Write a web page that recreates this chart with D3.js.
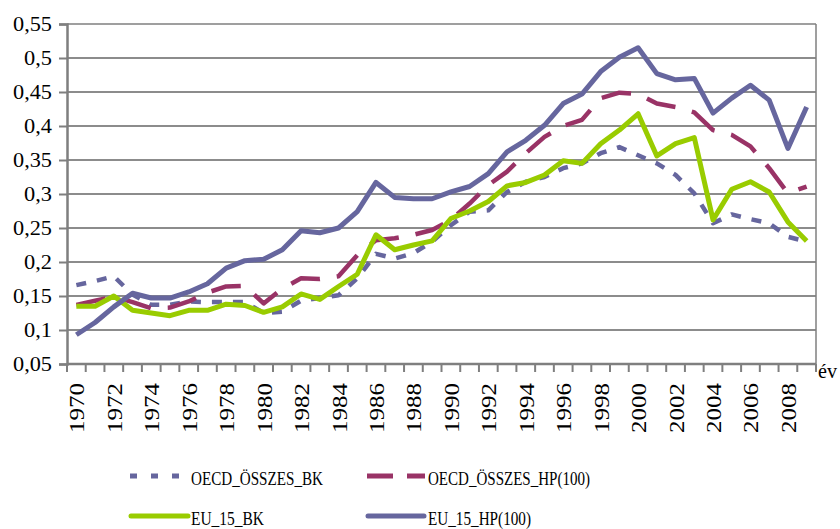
<!DOCTYPE html>
<html><head><meta charset="utf-8">
<script src="https://cdn.jsdelivr.net/npm/d3@7"></script>
<style>body{margin:0;background:#fff;} svg text{font-family:"Liberation Serif","Tinos","DejaVu Serif","Liberation Sans Narrow","Liberation Sans",serif;fill:#000;}</style>
</head><body>
<svg id="c" width="840" height="529"></svg>
<script>
const years = d3.range(1970, 2010);
const yTicks = [0.05,0.1,0.15,0.2,0.25,0.3,0.35,0.4,0.45,0.5,0.55];
const oecdBK = [0.166,0.172,0.179,0.152,0.137,0.137,0.142,0.141,0.141,0.141,0.125,0.127,0.143,0.147,0.151,0.176,0.212,0.205,0.213,0.230,0.254,0.274,0.276,0.303,0.318,0.325,0.338,0.345,0.360,0.369,0.357,0.345,0.328,0.301,0.257,0.270,0.263,0.257,0.237,0.230];
const oecdHP = [0.137,0.143,0.149,0.141,0.132,0.133,0.142,0.155,0.164,0.165,0.139,0.161,0.176,0.175,0.179,0.210,0.232,0.235,0.240,0.247,0.262,0.286,0.313,0.333,0.360,0.384,0.400,0.409,0.441,0.449,0.447,0.433,0.428,0.420,0.394,0.387,0.370,0.338,0.301,0.311];
const euBK = [0.135,0.135,0.150,0.129,0.125,0.121,0.129,0.129,0.138,0.136,0.126,0.134,0.153,0.145,0.164,0.182,0.240,0.218,0.225,0.231,0.264,0.275,0.289,0.312,0.317,0.328,0.349,0.345,0.374,0.394,0.418,0.356,0.374,0.383,0.262,0.307,0.318,0.303,0.259,0.231];
const euHP = [0.093,0.111,0.134,0.154,0.147,0.147,0.156,0.168,0.191,0.202,0.204,0.218,0.246,0.243,0.250,0.274,0.317,0.295,0.293,0.293,0.303,0.311,0.330,0.362,0.379,0.401,0.433,0.447,0.480,0.501,0.515,0.477,0.468,0.470,0.419,0.441,0.460,0.438,0.367,0.428];
const seriesNames = ["OECD_ÖSSZES_BK","OECD_ÖSSZES_HP(100)","EU_15_BK","EU_15_HP(100)"];

const svg = d3.select("#c");
const L = 67, R = 816, T = 24, B = 364;
const x = d3.scaleBand().domain(years).range([L, R]);
const y = d3.scaleLinear().domain([0.05, 0.55]).range([B, T]);

// gridlines
svg.append("g").selectAll("line").data(yTicks.filter(v => v > 0.051 && v < 0.549)).join("line")
  .attr("x1", L).attr("x2", R).attr("y1", d => y(d)).attr("y2", d => y(d))
  .attr("stroke", "#1a1a1a").attr("stroke-width", 1.2);
svg.append("line").attr("x1", L).attr("x2", R).attr("y1", T).attr("y2", T).attr("stroke", "#7f7f7f").attr("stroke-width", 1.5);
svg.append("line").attr("x1", R).attr("x2", R).attr("y1", T).attr("y2", B).attr("stroke", "#7f7f7f").attr("stroke-width", 1.5);

// y axis
const fmt = d => d3.format(".2~f")(d).replace(".", ",");
const yAxis = d3.axisLeft(y).tickValues(yTicks).tickSize(8).tickPadding(7).tickFormat(fmt);
const gy = svg.append("g").attr("transform", `translate(${L},0)`).call(yAxis).attr("font-family", null);
gy.select(".domain").attr("stroke", "#7f7f7f").attr("stroke-width", 2.5);
gy.selectAll(".tick line").attr("stroke", "#7f7f7f").attr("stroke-width", 2);
gy.selectAll(".tick text").attr("font-size", 20).attr("fill", "#000")
  .attr("textLength", d => { const s = fmt(d); return s.length === 4 ? 39 : 28; })
  .attr("lengthAdjust", "spacingAndGlyphs");

// x axis
const gx = svg.append("g").attr("transform", `translate(0,${B})`);
gx.append("line").attr("x1", L).attr("x2", R).attr("stroke", "#7f7f7f").attr("stroke-width", 2.5);
gx.selectAll("line.t").data(d3.range(years.length + 1)).join("line").attr("class", "t")
  .attr("x1", i => L + i * x.step()).attr("x2", i => L + i * x.step())
  .attr("y1", 0).attr("y2", 8).attr("stroke", "#7f7f7f").attr("stroke-width", 2);
gx.selectAll("text").data(years.filter(v => v % 2 === 0)).join("text")
  .attr("transform", d => `translate(${x(d) + x.bandwidth() / 2 + 1},${383 - B}) rotate(-90)`)
  .attr("text-anchor", "end").attr("dominant-baseline", "central")
  .attr("font-size", 21).attr("textLength", 50).attr("lengthAdjust", "spacingAndGlyphs")
  .text(d => d);
svg.append("text").attr("x", 818).attr("y", 378).attr("font-size", 20)
  .attr("textLength", 19).attr("lengthAdjust", "spacingAndGlyphs").text("év");

// lines
const cx = (d, i) => x(years[i]) + x.bandwidth() / 2;
const mk = d3.line().x(cx).y(d => y(d));
const styles = [
  {data: oecdBK, color: "#66669e", w: 4.5, dash: "10,11"},
  {data: oecdHP, color: "#993366", w: 4.5, dash: "30,17"},
  {data: euBK, color: "#99cc00", w: 5, dash: null},
  {data: euHP, color: "#66669e", w: 5, dash: null}
];
styles.forEach(s => {
  svg.append("path").datum(s.data).attr("d", mk).attr("fill", "none")
    .attr("stroke", s.color).attr("stroke-width", s.w)
    .attr("stroke-dasharray", s.dash).attr("stroke-linejoin", "round");
});

// legend
const leg = [
  {x1: 130, x2: 183, ly: 476, tx: 191, ty: 485, tw: 132, dash: "7,14", cap: "butt"},
  {x1: 367, x2: 425, ly: 476, tx: 428, ty: 485, tw: 162, dash: "26,14", cap: "butt"},
  {x1: 131, x2: 188, ly: 516, tx: 191, ty: 525, tw: 73, dash: null, cap: "round"},
  {x1: 368, x2: 424, ly: 516, tx: 428, ty: 525, tw: 103, dash: null, cap: "round"}
];
leg.forEach((l, i) => {
  svg.append("line").attr("x1", l.x1).attr("x2", l.x2).attr("y1", l.ly).attr("y2", l.ly)
    .attr("stroke", styles[i].color).attr("stroke-width", 5).attr("stroke-dasharray", l.dash)
    .attr("stroke-linecap", l.cap);
  svg.append("text").attr("x", l.tx).attr("y", l.ty).attr("font-size", 19)
    .attr("textLength", l.tw).attr("lengthAdjust", "spacingAndGlyphs").text(seriesNames[i]);
});
</script>
</body></html>
